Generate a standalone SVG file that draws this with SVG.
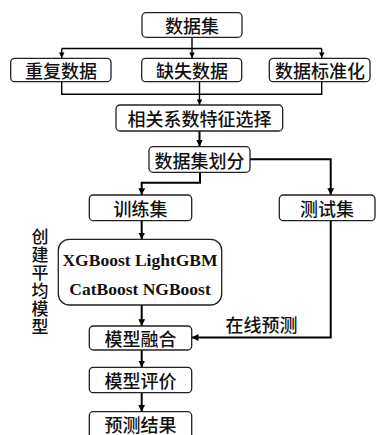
<svg xmlns="http://www.w3.org/2000/svg" width="376" height="435" viewBox="0 0 376 435">
<defs>
<marker id="ah" viewBox="0 0 8 8" refX="8" refY="4" markerWidth="4" markerHeight="4" markerUnits="strokeWidth" orient="auto">
<path d="M0,0 L8,4 L0,8 z" fill="#000"/>
</marker>
<marker id="ah2" viewBox="0 0 8 8" refX="8" refY="4" markerWidth="3.4" markerHeight="3.4" markerUnits="strokeWidth" orient="auto">
<path d="M0,0 L8,4 L0,8 z" fill="#000"/>
</marker>
</defs>
<style>
.box{fill:#fff;stroke:#222;stroke-width:1.3}
.t{font-family:"Noto Sans CJK SC",sans-serif;font-size:18px;font-weight:500;fill:#111;text-anchor:middle;dominant-baseline:central}
.v{font-family:"Noto Sans CJK SC",sans-serif;font-size:17px;font-weight:500;fill:#111;writing-mode:vertical-rl;letter-spacing:1px}
.e{font-family:"Liberation Serif",serif;font-weight:bold;font-size:17.5px;fill:#111;text-anchor:middle;dominant-baseline:central}
.c1{fill:none;stroke:#000;stroke-width:1.4}
.c2{fill:none;stroke:#000;stroke-width:2}
</style>
<rect width="376" height="435" fill="#fff"/>
<g id="connectors">
<path class="c1" d="M192,37 V48.5"/>
<path class="c1" d="M61.7,48.5 H321.7"/>
<path class="c1" d="M61.7,48.5 V58" marker-end="url(#ah)"/>
<path class="c1" d="M192,48.5 V58" marker-end="url(#ah)"/>
<path class="c1" d="M321.7,48.5 V58" marker-end="url(#ah)"/>
<path class="c1" d="M61.7,82 V94.3 H321.7 V82"/>
<path class="c1" d="M199.5,82 V105" marker-end="url(#ah)"/>
<path class="c2" d="M199.5,131 V146.5" marker-end="url(#ah2)"/>
<path class="c2" d="M200,172.5 V182.7 H141.7 V195" marker-end="url(#ah2)"/>
<path class="c2" d="M250,159.3 H330.7 V195" marker-end="url(#ah2)"/>
<path class="c2" d="M141.7,221 V239.3" marker-end="url(#ah2)"/>
<path class="c2" d="M330.7,221 V337.5 H191.7" marker-end="url(#ah2)"/>
<path class="c2" d="M141.7,305 V326" marker-end="url(#ah2)"/>
<path class="c2" d="M141.7,350 V367.3" marker-end="url(#ah2)"/>
<path class="c2" d="M141.7,392.7 V411.7" marker-end="url(#ah2)"/>
<text class="t" x="261.5" y="324">在线预测</text>
</g>
<g id="n-dataset"><rect class="box" x="142" y="12.7" width="100" height="24.6" rx="4"/><text class="t" x="192" y="25">数据集</text></g>
<g id="n-dup"><rect class="box" x="10.7" y="58.3" width="100.3" height="23.4" rx="4"/><text class="t" x="61" y="70">重复数据</text></g>
<g id="n-miss"><rect class="box" x="141.7" y="58.3" width="100" height="23.4" rx="4"/><text class="t" x="192" y="70">缺失数据</text></g>
<g id="n-norm"><rect class="box" x="269.3" y="58.3" width="100.7" height="23.4" rx="4"/><text class="t" x="320" y="70">数据标准化</text></g>
<g id="n-corr"><rect class="box" x="116" y="105" width="166.7" height="26" rx="4"/><text class="t" x="199.5" y="118">相关系数特征选择</text></g>
<g id="n-split"><rect class="box" x="149" y="146.7" width="101" height="25.6" rx="4"/><text class="t" x="199.5" y="159.5">数据集划分</text></g>
<g id="n-train"><rect class="box" x="89.3" y="195" width="102.4" height="25.7" rx="4"/><text class="t" x="140.5" y="208">训练集</text></g>
<g id="n-test"><rect class="box" x="279.3" y="195" width="95.7" height="25.7" rx="4"/><text class="t" x="327" y="208">测试集</text></g>
<g id="n-models"><rect class="box" x="58.3" y="239.3" width="163.4" height="65.7" rx="11"/><text class="e" x="140" y="259.5">XGBoost LightGBM</text><text class="e" x="140" y="289.3">CatBoost NGBoost</text></g>
<g id="n-label"><text class="v" x="40" y="228">创建平均模型</text></g>
<g id="n-fuse"><rect class="box" x="89.3" y="326" width="102.4" height="24" rx="4"/><text class="t" x="140.5" y="338">模型融合</text></g>
<g id="n-eval"><rect class="box" x="89.3" y="367.3" width="102.4" height="25.4" rx="4"/><text class="t" x="140.5" y="380">模型评价</text></g>
<g id="n-result"><rect class="box" x="89.3" y="411.7" width="102.4" height="30" rx="4"/><text class="t" x="140.5" y="423.5">预测结果</text></g>
</svg>
